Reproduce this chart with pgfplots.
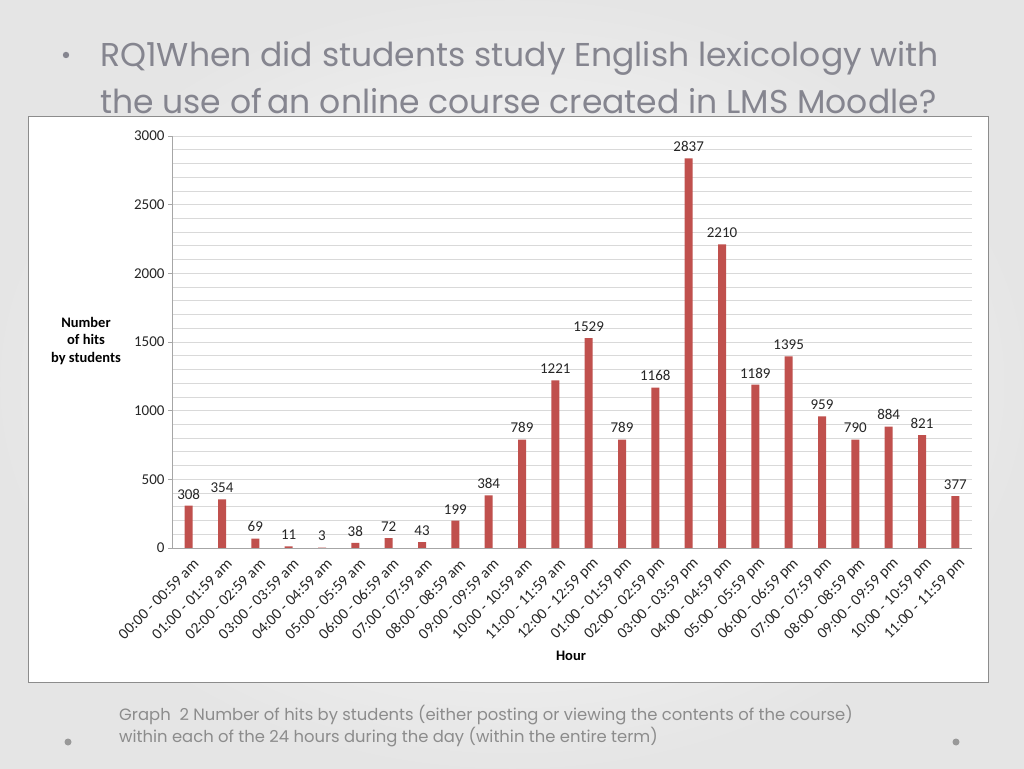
\documentclass[border=0pt]{standalone}
\usepackage{fontspec}
\setmainfont{Carlito}
\newfontfamily\slidefont{Poppins}
\usepackage{pgfplots}
\pgfplotsset{compat=1.18}
\definecolor{barred}{HTML}{C0504D}
\definecolor{titlegray}{HTML}{85858F}
\definecolor{capgray}{HTML}{8C8C8C}
\definecolor{gridgray}{HTML}{D9D9D9}
\definecolor{axisgray}{HTML}{A6A6A6}

\begin{document}
\begin{tikzpicture}[x=1pt,y=1pt]
% slide background
\shade[inner color=white, outer color=black!10] (0,0) rectangle (1024,768);
% chart box
\fill[white, draw=black!45, line width=1pt] (28,86) rectangle (988,651);

% title
\node[anchor=west, text=titlegray, inner sep=0pt] at (100,710)
  {\slidefont\fontsize{33}{38}\selectfont RQ1When did students study English lexicology with};
\node[anchor=west, text=titlegray, inner sep=0pt] at (100,667)
  {\slidefont\fontsize{33}{38}\selectfont the use of\,an online course created in LMS Moodle?};
\fill[titlegray] (66,713) circle (3.2);

\begin{axis}[
    at={(172pt,220pt)}, anchor=south west,
    scale only axis,
    width=800pt, height=412pt,
    ybar, bar width=8pt,
    xmin=-0.5, xmax=23.5,
    ymin=0, ymax=3000,
    ytick={0,500,...,3000},
    minor y tick num=4,
    ymajorgrids, yminorgrids,
    major grid style={gridgray, line width=0.8pt},
    minor grid style={gridgray, line width=0.8pt},
    axis x line=bottom, axis y line=left,
    axis line style={axisgray, line width=0.8pt, -},
    ytick style={axisgray, line width=0.8pt},
    tick align=outside,
    major tick length=4pt,
    minor tick length=0pt,
    xtick style={draw=none},
    xtick=data,
    xticklabels={
        00:00 - 00:59 am, 01:00 - 01:59 am, 02:00 - 02:59 am, 03:00 - 03:59 am,
        04:00 - 04:59 am, 05:00 - 05:59 am, 06:00 - 06:59 am, 07:00 - 07:59 am,
        08:00 - 08:59 am, 09:00 - 09:59 am, 10:00 - 10:59 am, 11:00 - 11:59 am,
        12:00 - 12:59 pm, 01:00 - 01:59 pm, 02:00 - 02:59 pm, 03:00 - 03:59 pm,
        04:00 - 04:59 pm, 05:00 - 05:59 pm, 06:00 - 06:59 pm, 07:00 - 07:59 pm,
        08:00 - 08:59 pm, 09:00 - 09:59 pm, 10:00 - 10:59 pm, 11:00 - 11:59 pm},
    xticklabel style={rotate=45, anchor=east, font=\fontsize{15.5}{17}\selectfont, text=black!85, xshift=2pt, yshift=-12pt},
    yticklabel style={font=\fontsize{15}{17}\selectfont, text=black!85},
    /pgf/number format/assume math mode=true,
    /pgf/number format/1000 sep={},
    scaled y ticks=false,
    nodes near coords,
    nodes near coords style={font=\fontsize{15}{17}\selectfont, text=black!85, yshift=3pt,
        /pgf/number format/1000 sep={}},
]
\addplot[fill=barred, draw=none] coordinates {
    (0,308) (1,354) (2,69) (3,11) (4,3) (5,38) (6,72) (7,43)
    (8,199) (9,384) (10,789) (11,1221) (12,1529) (13,789) (14,1168) (15,2837)
    (16,2210) (17,1189) (18,1395) (19,959) (20,790) (21,884) (22,821) (23,377)
};
\end{axis}

% axis titles
\node[align=center, font=\bfseries\fontsize{14.5}{17.5}\selectfont] at (86,427)
  {Number\\of hits\\by students};
\node[font=\bfseries\fontsize{14.5}{15}\selectfont] at (571,112) {Hour};

% caption
\node[anchor=north west, align=left, text=capgray, inner sep=0pt,
      font=\slidefont\fontsize{16.4}{22}\selectfont] at (119,63)
  {Graph\ \ 2 Number of hits by students (either posting or viewing the contents of the course)\\
   within each of the 24 hours during the day (within the entire term)};
\fill[black!40] (68,26) circle (3.5);
\fill[black!40] (956,26) circle (3.5);
\end{tikzpicture}
\end{document}
